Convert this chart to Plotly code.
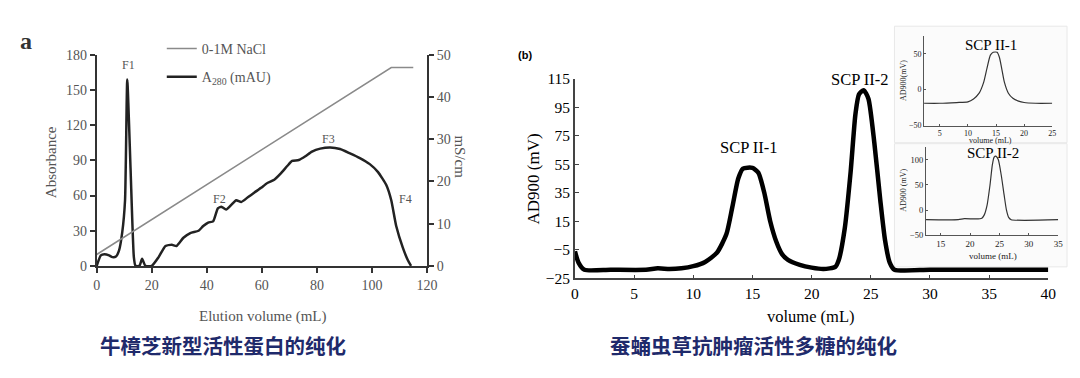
import plotly.graph_objects as go

# ---------------- Left chart (a) data ----------------
a280_x = [0, 1.5, 2.8, 4.5, 5.7, 7, 8.1, 9.3, 10.3, 11.1, 12.3, 13.5, 14.1, 15.5, 16.5, 17.7, 20,
          22.5, 25, 27.3, 29, 31.5, 34, 37, 38.7, 40.5, 42.3, 44, 45.3, 47, 48.9, 50.7, 52.5, 54.9,
          57.3, 59.7, 62, 64.5, 66.8, 69.3, 71, 73.4, 75.8, 78.2, 81.2, 84.8, 88.4, 92, 95.6, 99.2,
          102.2, 105.2, 107, 108.8, 111.2, 113, 114.2]
a280_y = [0, 9, 10, 9, 7.5, 8, 13, 29, 56, 159, 83, 7.5, 0, 0, 6, 0, 0,
          7.5, 17, 18, 17, 24, 28, 30, 34, 37, 38, 49, 50.5, 48, 52, 56, 54.5, 58.5,
          62.6, 66.6, 70.7, 73.4, 78.7, 85.4, 89.5, 90.3, 93.5, 97.5, 100, 101, 99.7, 96, 92, 86.8,
          80, 69, 56, 34, 15.6, 5, 0]
nacl_x = [0, 107, 115]
nacl_y = [2.7, 47, 47]          # mS/cm (right axis)
a_peaks = ["F1", "F2", "F3", "F4"]
a_peak_x = [11.5, 44.7, 84.2, 112.3]
a_peak_y = [171, 57, 108, 57]

# ---------------- Right chart (b) data ----------------
b_x = [0, 0.3, 0.8, 3, 6, 7, 8, 9, 10, 11, 12, 12.8, 13.3, 13.8, 14.2, 15, 15.5, 16, 16.5, 17,
       17.5, 18, 19, 20, 21, 22, 22.3, 22.8, 23.3, 23.7, 24, 24.4, 24.8, 25.3, 25.8, 26.2, 26.6,
       27, 30, 35, 40]
b_y = [-6, -14, -19, -19, -19, -18, -18.5, -18, -16.5, -13.5, -7, 6, 25, 45, 52, 52.5, 49, 35,
       15, 1, -8, -12, -15.5, -17.5, -18.5, -17, -12, 10, 50, 90, 104, 107, 101, 70, 30, 2, -14,
       -19, -19, -19, -19]
b_peaks = ["SCP II-1", "SCP II-2"]
b_peak_x = [14.7, 24.1]
b_peak_y = [66.5, 114.5]

in1_x = [2.2, 5, 8, 10, 11, 12, 12.8, 13.4, 14, 14.5, 15.2, 15.6, 16, 16.5, 17.2, 18, 19, 20, 22, 25]
in1_y = [-19, -19, -18, -17, -13, -5, 10, 30, 48, 52, 52, 45, 30, 10, -5, -12, -16, -18, -19, -19]
in2_x = [12.5, 18, 19, 21, 22, 22.4, 22.9, 23.4, 23.8, 24.1, 24.4, 24.8, 25.3, 25.8, 26.2, 26.6, 27, 35]
in2_y = [-19, -19, -17, -17.5, -16, -10, 10, 50, 90, 105, 107, 100, 70, 30, 0, -15, -19, -19]

captions = ["牛樟芝新型活性蛋白的纯化", "蚕蛹虫草抗肿瘤活性多糖的纯化"]

W, H = 1080, 378
def px(x): return x / W
def py(y): return 1 - y / H

SERIF = "Liberation Serif, Times New Roman, serif"
GRAY = "#555555"

fig = go.Figure()

# left chart traces
fig.add_trace(go.Scatter(x=nacl_x, y=nacl_y, mode="lines", name="0-1M NaCl", legendgroup="g1",
                         line=dict(color="#8a8a8a", width=1.5), xaxis="x", yaxis="y2"))
fig.add_trace(go.Scatter(x=a280_x, y=a280_y, mode="lines", name="A<sub>280</sub> (mAU)", legendgroup="g2",
                         line=dict(color="#222222", width=2.5, shape="spline", smoothing=0.5),
                         xaxis="x", yaxis="y"))
# right main
fig.add_trace(go.Scatter(x=b_x, y=b_y, mode="lines", showlegend=False,
                         line=dict(color="black", width=4.5, shape="spline", smoothing=0.6),
                         xaxis="x3", yaxis="y3"))
# insets
fig.add_trace(go.Scatter(x=in1_x, y=in1_y, mode="lines", showlegend=False,
                         line=dict(color="#333333", width=1.2, shape="spline", smoothing=0.6),
                         xaxis="x4", yaxis="y4"))
fig.add_trace(go.Scatter(x=in2_x, y=in2_y, mode="lines", showlegend=False,
                         line=dict(color="#333333", width=1.2, shape="spline", smoothing=0.6),
                         xaxis="x5", yaxis="y5"))

axcommon = dict(showgrid=False, zeroline=False, showline=True)

fig.update_layout(
    width=W, height=H, autosize=False, margin=dict(l=0, r=0, t=0, b=0, pad=0),
    paper_bgcolor="white", plot_bgcolor="rgba(0,0,0,0)",
    showlegend=True,
    legend=dict(x=px(160), y=py(25), xanchor="left", yanchor="top", bgcolor="rgba(0,0,0,0)",
                font=dict(family=SERIF, size=14, color=GRAY), itemwidth=30, tracegroupgap=7),
    xaxis=dict(domain=[px(94), px(429)], range=[0, 120], anchor="y", **axcommon,
               linecolor="#333", linewidth=2, ticks="outside", ticklen=5, tickwidth=2,
               tickcolor="#333", dtick=20, tick0=0,
               tickfont=dict(family=SERIF, size=14, color=GRAY)),
    yaxis=dict(domain=[py(269), py(48)], range=[0, 180], anchor="x", **axcommon,
               linecolor="#333", linewidth=2, ticks="outside", ticklen=5, tickwidth=2,
               tickcolor="#333", dtick=30, tick0=0,
               tickfont=dict(family=SERIF, size=14, color=GRAY)),
    yaxis2=dict(overlaying="y", side="right", anchor="x", range=[0, 50], **axcommon,
                linecolor="#333", linewidth=2, ticks="outside", ticklen=5, tickwidth=2,
                tickcolor="#333", dtick=10, tick0=0,
                tickfont=dict(family=SERIF, size=14, color=GRAY)),
    xaxis3=dict(domain=[px(579), px(1059)], range=[0, 40], anchor="y3", **axcommon,
                linecolor="#444", linewidth=1.5, ticks="inside", ticklen=4, tickcolor="#444",
                dtick=5, tick0=0, tickfont=dict(family=SERIF, size=15.5, color="black")),
    yaxis3=dict(domain=[py(282), py(73)], range=[-25, 115], anchor="x3", **axcommon,
                linecolor="#444", linewidth=1.5, ticks="inside", ticklen=4, tickcolor="#444",
                dtick=20, tick0=-25, tickfont=dict(family=SERIF, size=15.5, color="black")),
    xaxis4=dict(domain=[px(933), px(1063)], range=[2.2, 25], anchor="y4", **axcommon,
                linecolor="#555", linewidth=1, ticks="inside", ticklen=2, tickcolor="#555",
                tickvals=[5, 10, 15, 20, 25], tickfont=dict(family=SERIF, size=8, color="#222")),
    yaxis4=dict(domain=[py(122), py(28)], range=[-50, 75], anchor="x4", **axcommon,
                linecolor="#555", linewidth=1, ticks="inside", ticklen=2, tickcolor="#555",
                tickvals=[-50, 0, 50], tickfont=dict(family=SERIF, size=8, color="#222")),
    xaxis5=dict(domain=[px(935), px(1069)], range=[12.5, 35], anchor="y5", **axcommon,
                linecolor="#555", linewidth=1, ticks="inside", ticklen=2, tickcolor="#555",
                tickvals=[15, 20, 25, 30, 35], tickfont=dict(family=SERIF, size=9, color="#222")),
    yaxis5=dict(domain=[py(237), py(145)], range=[-50, 124], anchor="x5", **axcommon,
                linecolor="#555", linewidth=1, ticks="inside", ticklen=2, tickcolor="#555",
                tickvals=[-50, 0, 50, 100], tickfont=dict(family=SERIF, size=8.5, color="#222")),
)

# inset backgrounds (decorative panels)
fig.add_shape(type="rect", xref="paper", yref="paper", x0=px(903), x1=px(1078), y0=py(140), y1=py(18),
              fillcolor="#fbfbfb", line=dict(color="#e8e8e8", width=1), layer="below")
fig.add_shape(type="rect", xref="paper", yref="paper", x0=px(903), x1=px(1078), y0=py(270), y1=py(141),
              fillcolor="#fbfbfb", line=dict(color="#e8e8e8", width=1), layer="below")

ann = []
def A(text, x, y, size, color="black", family=SERIF, angle=0, xref="paper", yref="paper"):
    if xref == "paper":
        x = px(x)
    if yref == "paper":
        y = py(y)
    ann.append(dict(text=text, x=x, y=y, xref=xref, yref=yref, showarrow=False,
                    xanchor="center", yanchor="middle", textangle=angle,
                    font=dict(family=family, size=size, color=color)))

# left chart texts
A("<b>a</b>", 22, 33, 24, "#333")
A("Absorbance", 47, 160, 15, GRAY, angle=-90)
A("Elution volume (mL)", 262, 322, 15, GRAY)
A("mS/cm", 462, 155, 15, GRAY, angle=90)
for t, xx, yy in zip(a_peaks, a_peak_x, a_peak_y):
    A(t, xx, yy, 12, GRAY, xref="x", yref="y")
# right chart texts
A("<b>(b)</b>", 528, 48, 11, family="Liberation Sans, Arial")
A("AD900 (mV)", 537, 178, 17, angle=-90)
A("volume (mL)", 818, 322, 16.5)
for t, xx, yy in zip(b_peaks, b_peak_x, b_peak_y):
    A(t, xx, yy, 16.5, xref="x3", yref="y3")
# inset texts
A("SCP II-1", 1001, 38, 15)
A("SCP II-2", 1003, 151, 15)
A("AD900(mV)", 912, 75, 8, "#222", angle=-90)
A("AD900 (mV)", 912, 190, 8, "#222", angle=-90)
A("volume (mL)", 1000, 138, 8, "#222")
A("volume (mL)", 1003, 259, 9, "#222")
# captions
A("<b>" + captions[0] + "</b>", 222, 352, 20.5, "#1f2a6b", family="Noto Sans CJK SC")
A("<b>" + captions[1] + "</b>", 760, 352, 20.5, "#1f2a6b", family="Noto Sans CJK SC")

fig.update_layout(annotations=ann)
fig.write_html("out.html", config={"responsive": False, "displayModeBar": False},
               post_script="document.body.style.margin='0';document.body.style.overflow='hidden';")
